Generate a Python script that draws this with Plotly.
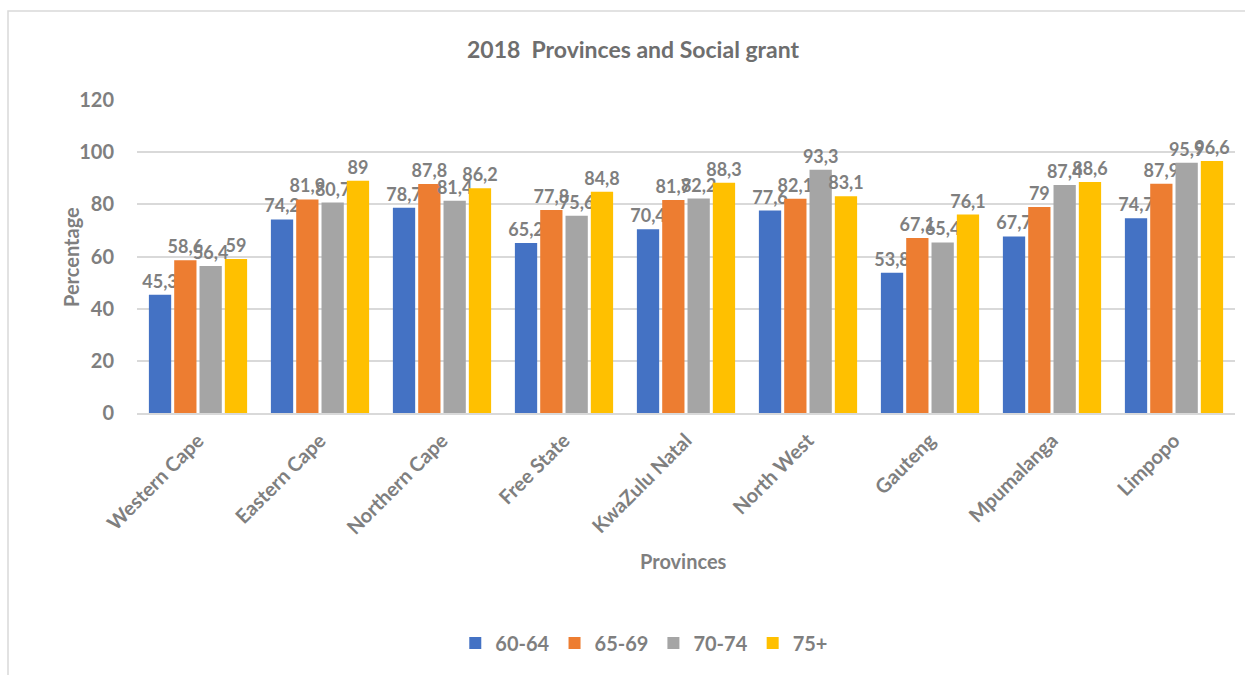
import plotly.graph_objects as go

provinces = ["Western Cape", "Eastern Cape", "Northern Cape", "Free State",
             "KwaZulu Natal", "North West", "Gauteng", "Mpumalanga", "Limpopo"]
age_groups = ["60-64", "65-69", "70-74", "75+"]
age_60_64 = [45.3, 74.2, 78.7, 65.2, 70.4, 77.6, 53.8, 67.7, 74.7]
age_65_69 = [58.6, 81.9, 87.8, 77.8, 81.7, 82.1, 67.1, 79, 87.9]
age_70_74 = [56.4, 80.7, 81.4, 75.6, 82.2, 93.3, 65.4, 87.4, 95.9]
age_75_plus = [59, 89, 86.2, 84.8, 88.3, 83.1, 76.1, 88.6, 96.6]
y_ticks = [0, 20, 40, 60, 80, 100, 120]

series = [age_60_64, age_65_69, age_70_74, age_75_plus]
colors = ["#4472c4", "#ed7d31", "#a5a5a5", "#ffc000"]

FONT = "Lato, Open Sans, sans-serif"
GRAY = "#7f7f7f"

fig = go.Figure()
for name, vals, col in zip(age_groups, series, colors):
    fig.add_trace(go.Bar(
        name=name, x=provinces, y=vals,
        marker=dict(color=col, line=dict(width=0)),
        texttemplate="%{y}", textposition="outside",
        textfont=dict(family=FONT, size=18, color=GRAY, weight="bold"),
        constraintext="none", cliponaxis=False,
    ))

fig.update_layout(
    width=1245, height=675,
    margin=dict(l=137, r=10, t=100, b=262),
    paper_bgcolor="white", plot_bgcolor="white",
    separators=",.",
    barmode="group", bargap=0.17, bargroupgap=0.12,
    font=dict(family=FONT, color=GRAY),
    title=dict(text="<b>2018  Provinces and Social grant</b>", x=633 / 1245,
               xanchor="center", y=1 - 50 / 675, yanchor="middle",
               font=dict(family=FONT, size=23, color="#6e6e6e")),
    xaxis=dict(tickangle=-45, showgrid=False, showline=True, linecolor="#d9d9d9",
               linewidth=2, ticks="", ticklabelstandoff=6,
               tickfont=dict(family=FONT, size=20, color=GRAY, weight="bold")),
    yaxis=dict(range=[0, 120], tickvals=y_ticks, showgrid=True, gridcolor="#d9d9d9",
               gridwidth=1.5, zeroline=False, showline=False, ticks="",
               ticklabelstandoff=22,
               tickfont=dict(family=FONT, size=20, color=GRAY, weight="bold")),
    legend=dict(orientation="h", x=0.462, xanchor="center", y=-0.735, yanchor="middle",
                font=dict(family=FONT, size=20, color=GRAY, weight="bold"),
                itemwidth=30, traceorder="normal"),
    showlegend=True,
)

# axis titles
fig.add_annotation(text="<b>Percentage</b>", xref="paper", yref="paper",
                   x=(57 - 137) / 1098, y=(413 - 257) / 313, textangle=-90,
                   showarrow=False, font=dict(family=FONT, size=20, color=GRAY))
fig.add_annotation(text="<b>Provinces</b>", xref="paper", yref="paper",
                   x=(683 - 137) / 1098, y=(413 - 575) / 313,
                   showarrow=False, font=dict(family=FONT, size=20, color=GRAY))

# chart frame
fig.add_shape(type="rect", xref="paper", yref="paper",
              x0=(8 - 137) / 1098, x1=(1252 - 137) / 1098,
              y0=(413 - 682) / 313, y1=(413 - 11) / 313,
              line=dict(color="#d9d9d9", width=1.5), layer="below")

fig.write_html("out.html")
